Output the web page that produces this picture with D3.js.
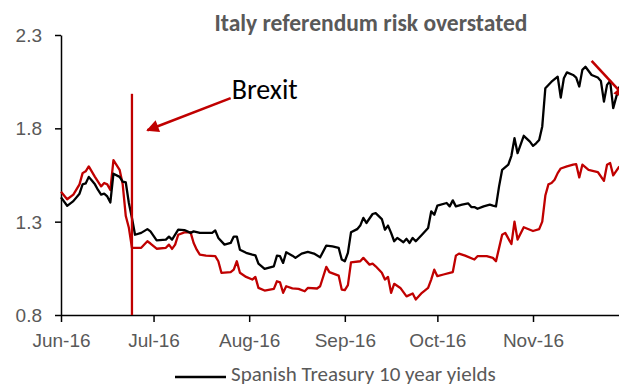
<!DOCTYPE html>
<html>
<head>
<meta charset="utf-8">
<script src="https://cdn.jsdelivr.net/npm/d3@7"></script>
<style>
  body { margin: 0; background: #fff; }
  svg { display: block; font-family: Carlito, Lato, "Open Sans", sans-serif; }
  .tick text { fill: #595959; font-size: 19px; }
  .domain, .tick line { stroke: #000; stroke-width: 1.5; }
  .series { fill: none; stroke-width: 2.3; stroke-linejoin: round; }
</style>
</head>
<body>
<svg id="chart" width="619" height="387"></svg>
<script>
// Black line: Spanish Treasury 10 year yields
let spainDates = [
  "2016-06-01","2016-06-03","2016-06-05","2016-06-07","2016-06-08","2016-06-09","2016-06-10","2016-06-11","2016-06-12","2016-06-13",
  "2016-06-14","2016-06-15","2016-06-16","2016-06-17","2016-06-18","2016-06-20","2016-06-21","2016-06-22","2016-06-23","2016-06-24",
  "2016-06-25","2016-06-27","2016-06-29","2016-06-30",
  "2016-07-02","2016-07-05","2016-07-06","2016-07-07","2016-07-09","2016-07-11","2016-07-13","2016-07-14","2016-07-16","2016-07-20",
  "2016-07-21","2016-07-22","2016-07-24","2016-07-26","2016-07-27","2016-07-28","2016-07-29","2016-07-31",
  "2016-08-02","2016-08-03","2016-08-04","2016-08-06","2016-08-09","2016-08-10","2016-08-11","2016-08-12","2016-08-13","2016-08-15",
  "2016-08-16","2016-08-18","2016-08-20","2016-08-22","2016-08-24","2016-08-26","2016-08-28","2016-08-30","2016-08-31",
  "2016-09-01","2016-09-02","2016-09-03","2016-09-05","2016-09-06","2016-09-07","2016-09-08","2016-09-10","2016-09-11","2016-09-13",
  "2016-09-14","2016-09-15","2016-09-16","2016-09-17","2016-09-18","2016-09-20","2016-09-21","2016-09-22","2016-09-23","2016-09-24",
  "2016-09-26","2016-09-28","2016-09-29","2016-09-30",
  "2016-10-01","2016-10-04","2016-10-05","2016-10-06","2016-10-07","2016-10-09","2016-10-11","2016-10-12","2016-10-13","2016-10-14",
  "2016-10-16","2016-10-18","2016-10-19","2016-10-20","2016-10-21","2016-10-22","2016-10-24","2016-10-25","2016-10-26","2016-10-27",
  "2016-10-29","2016-10-31",
  "2016-11-01","2016-11-02","2016-11-03","2016-11-04","2016-11-05","2016-11-07","2016-11-09","2016-11-10","2016-11-11","2016-11-12",
  "2016-11-14","2016-11-15","2016-11-16","2016-11-17","2016-11-18","2016-11-20","2016-11-22","2016-11-23","2016-11-24","2016-11-25",
  "2016-11-26","2016-11-27","2016-11-28","2016-11-29"
];
let spainValues = [
  1.43, 1.385, 1.41, 1.45, 1.50, 1.505, 1.54, 1.52, 1.50, 1.47,
  1.445, 1.45, 1.435, 1.403, 1.557, 1.54, 1.515, 1.51, 1.40, 1.32,
  1.23, 1.24, 1.26, 1.248,
  1.20, 1.204, 1.22, 1.204, 1.257, 1.255, 1.24, 1.248, 1.24, 1.24,
  1.253, 1.213, 1.177, 1.186, 1.22, 1.22, 1.15, 1.133,
  1.124, 1.12, 1.075, 1.047, 1.061, 1.118, 1.115, 1.079, 1.136, 1.118,
  1.106, 1.129, 1.138, 1.129, 1.109, 1.172, 1.168, 1.16, 1.097,
  1.088, 1.133, 1.243, 1.26, 1.279, 1.32, 1.293, 1.341, 1.346, 1.314,
  1.257, 1.279, 1.24, 1.195, 1.213, 1.19, 1.208, 1.186, 1.213, 1.195,
  1.23, 1.266, 1.355, 1.337,
  1.386, 1.40, 1.382, 1.414, 1.382, 1.391, 1.398, 1.378, 1.378, 1.369,
  1.382, 1.391, 1.386, 1.382, 1.489, 1.578, 1.605, 1.653, 1.747, 1.667,
  1.76, 1.729,
  1.706, 1.72, 1.738, 1.81, 2.015, 2.05, 2.077, 1.965, 2.068, 2.10,
  2.086, 2.072, 2.024, 2.113, 2.13, 2.086, 2.072, 2.054, 1.943, 2.033,
  2.054, 1.908, 1.97, 2.024
];

// Red line (legend entry cut off in the source)
let redDates = [
  "2016-06-01","2016-06-03","2016-06-05","2016-06-07","2016-06-08","2016-06-09","2016-06-10","2016-06-12","2016-06-14","2016-06-15",
  "2016-06-16","2016-06-17","2016-06-18","2016-06-20","2016-06-21","2016-06-22","2016-06-23","2016-06-24","2016-06-27","2016-06-29",
  "2016-06-30",
  "2016-07-02","2016-07-05","2016-07-06","2016-07-07","2016-07-08","2016-07-09","2016-07-11","2016-07-13","2016-07-14","2016-07-15",
  "2016-07-16","2016-07-18","2016-07-21","2016-07-22","2016-07-23","2016-07-26","2016-07-27","2016-07-28","2016-07-29","2016-07-31",
  "2016-08-02","2016-08-03","2016-08-04","2016-08-06","2016-08-09","2016-08-10","2016-08-11","2016-08-12","2016-08-13","2016-08-15",
  "2016-08-17","2016-08-19","2016-08-20","2016-08-23","2016-08-24","2016-08-26","2016-08-27","2016-08-30","2016-08-31",
  "2016-09-01","2016-09-02","2016-09-03","2016-09-06","2016-09-07","2016-09-09","2016-09-10","2016-09-11","2016-09-13","2016-09-14",
  "2016-09-15","2016-09-16","2016-09-17","2016-09-19","2016-09-21","2016-09-23","2016-09-24","2016-09-26","2016-09-28","2016-09-29",
  "2016-09-30",
  "2016-10-01","2016-10-03","2016-10-05","2016-10-06","2016-10-07","2016-10-08","2016-10-10","2016-10-13","2016-10-14","2016-10-17",
  "2016-10-19","2016-10-20","2016-10-22","2016-10-23","2016-10-25","2016-10-26","2016-10-27","2016-10-29",
  "2016-11-01","2016-11-03","2016-11-04","2016-11-05","2016-11-06","2016-11-07","2016-11-08","2016-11-09","2016-11-10","2016-11-12",
  "2016-11-14","2016-11-15","2016-11-16","2016-11-17","2016-11-19","2016-11-21","2016-11-22","2016-11-24","2016-11-25","2016-11-26",
  "2016-11-27","2016-11-29"
];
let redValues = [
  1.46, 1.42, 1.445, 1.50, 1.56, 1.57, 1.596, 1.54, 1.489, 1.507,
  1.50, 1.47, 1.63, 1.578, 1.50, 1.33, 1.267, 1.16, 1.16, 1.195,
  1.183,
  1.155, 1.16, 1.177, 1.154, 1.177, 1.23, 1.243, 1.243, 1.186, 1.15,
  1.124, 1.118, 1.115, 1.088, 1.026, 1.03, 1.043, 1.088, 1.026, 1.004,
  0.99, 1.004, 0.945, 0.931, 0.94, 0.981, 0.975, 0.919, 0.954, 0.943,
  0.94, 0.927, 0.945, 0.942, 0.954, 1.058, 1.03, 1.011, 0.936,
  0.933, 0.96, 1.082, 1.088, 1.106, 1.07, 1.075, 1.061, 1.026, 0.99,
  1.004, 0.919, 0.967, 0.945, 0.90, 0.915, 0.883, 0.919, 0.945, 0.99,
  1.043,
  1.008, 1.017, 1.026, 1.03, 1.118, 1.129, 1.118, 1.097, 1.115, 1.115,
  1.106, 1.088, 1.23, 1.24, 1.18, 1.30, 1.204, 1.27,
  1.25, 1.26, 1.30, 1.44, 1.50, 1.507, 1.525, 1.56, 1.585, 1.596,
  1.605, 1.608, 1.537, 1.605, 1.578, 1.57, 1.566, 1.519, 1.605, 1.614,
  1.548, 1.596
];

let yTicks = [0.8, 1.3, 1.8, 2.3];
let monthTicks = ["2016-06-01","2016-07-01","2016-08-01","2016-09-01","2016-10-01","2016-11-01"];

// annotations
let brexitDate = "2016-06-24";
let brexitRange = [0.8, 1.985];
let brexitArrow = [["2016-07-26", 1.962], ["2016-06-29", 1.79]];
let brexitLabel = ["2016-07-26", 1.958, "Brexit"];
let italyArrow = [["2016-11-20", 2.162], ["2016-12-01", 1.965]];

let title = "Italy referendum risk overstated";
let legendLabel = "Spanish Treasury 10 year yields";

let red = "#c00000";
let parse = d3.timeParse("%Y-%m-%d");

let svg = d3.select("#chart");

let xScale = d3.scaleTime()
    .domain([parse("2016-06-01"), parse("2016-11-30")])
    .range([61, 61 + 182 * 3.085]);

let yScale = d3.scaleLinear()
    .domain([0.8, 2.3])
    .range([315, 35]);

let line = d3.line()
    .x(d => xScale(d[0]))
    .y(d => yScale(d[1]));

let defs = svg.append("defs");
defs.append("marker")
    .attr("id", "head")
    .attr("viewBox", "0 0 10 10")
    .attr("refX", 9)
    .attr("refY", 5)
    .attr("markerWidth", 5.5)
    .attr("markerHeight", 4.8)
    .attr("markerUnits", "strokeWidth")
    .attr("orient", "auto")
    .append("path")
    .attr("d", "M0,0L10,5L0,10Z")
    .attr("fill", red);

// axes
svg.append("g")
    .attr("transform", "translate(61,0)")
    .call(d3.axisLeft(yScale).tickValues(yTicks).tickFormat(d3.format(".1f")).tickSize(6).tickSizeOuter(0).tickPadding(13))
    .call(g => g.selectAll(".tick text").attr("dy", "0.34em"));

svg.append("g")
    .attr("transform", "translate(0,315)")
    .call(d3.axisBottom(xScale).tickValues(monthTicks.map(parse)).tickFormat(d3.timeFormat("%b-%y")).tickSize(7).tickSizeOuter(0).tickPadding(12));

svg.selectAll(".domain").attr("stroke-width", 1.5);

// series
let spain = spainDates.map((d, i) => [parse(d), spainValues[i]]);
let other = redDates.map((d, i) => [parse(d), redValues[i]]);

svg.append("path")
    .attr("class", "series")
    .attr("stroke", red)
    .attr("d", line(other));

svg.append("path")
    .attr("class", "series")
    .attr("stroke", "#000")
    .attr("d", line(spain));

// Brexit day
svg.append("path")
    .attr("stroke", red)
    .attr("stroke-width", 2.3)
    .attr("d", line(brexitRange.map(v => [parse(brexitDate), v])));

svg.append("path")
    .attr("stroke", red)
    .attr("stroke-width", 2.6)
    .attr("marker-end", "url(#head)")
    .attr("d", line(brexitArrow.map(d => [parse(d[0]), d[1]])));

svg.append("text")
    .attr("x", xScale(parse(brexitLabel[0])) + 1)
    .attr("y", yScale(brexitLabel[1]))
    .attr("font-size", 28)
    .attr("fill", "#000")
    .text(brexitLabel[2]);

svg.append("path")
    .attr("stroke", red)
    .attr("stroke-width", 2.6)
    .attr("marker-end", "url(#head)")
    .attr("d", line(italyArrow.map(d => [parse(d[0]), d[1]])));

// title
svg.append("text")
    .attr("x", 371)
    .attr("y", 31)
    .attr("text-anchor", "middle")
    .attr("font-size", 23.5)
    .attr("font-weight", "bold")
    .attr("fill", "#595959")
    .text(title);

// legend (sits at the bottom edge, as in the source)
svg.append("line")
    .attr("x1", 175).attr("x2", 226)
    .attr("y1", 377).attr("y2", 377)
    .attr("stroke", "#000")
    .attr("stroke-width", 2.3);

svg.append("text")
    .attr("x", 231)
    .attr("y", 381)
    .attr("font-size", 21)
    .attr("fill", "#595959")
    .text(legendLabel);
</script>
</body>
</html>
